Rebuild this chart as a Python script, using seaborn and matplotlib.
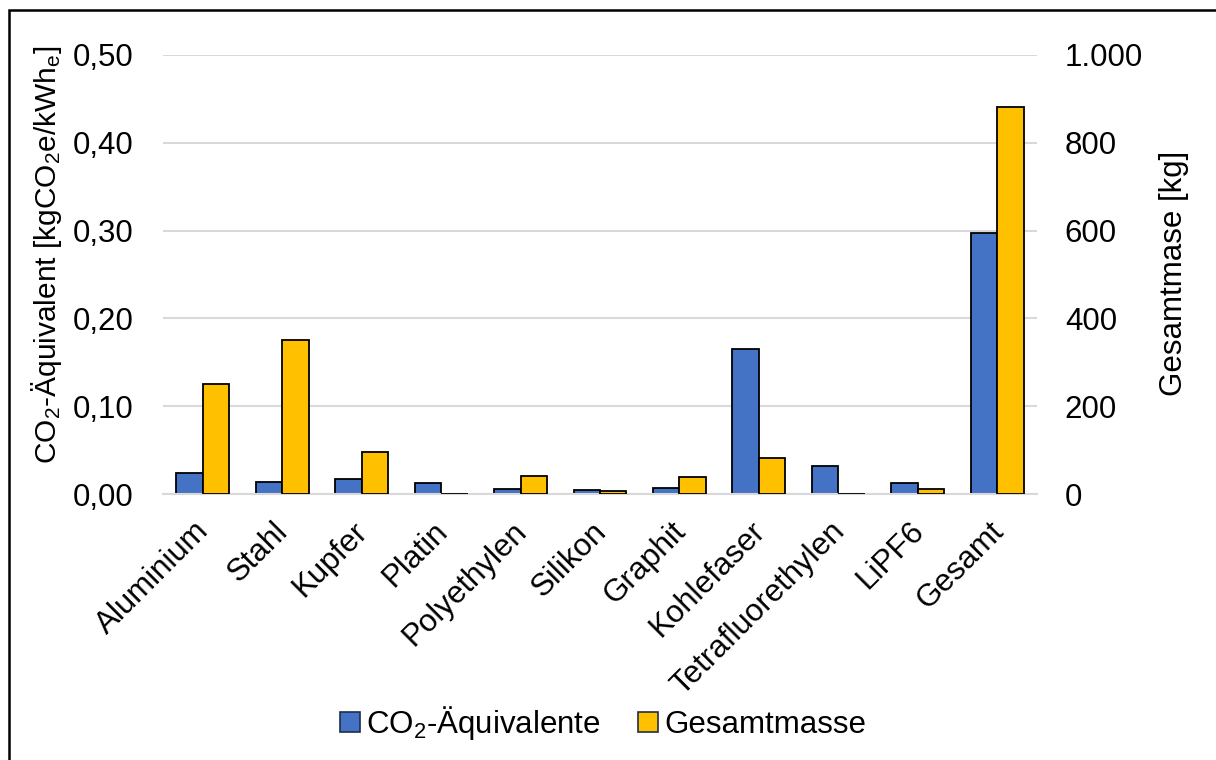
import matplotlib
matplotlib.use("Agg")
import matplotlib.pyplot as plt
from matplotlib.patches import Patch, Rectangle
from matplotlib.ticker import FuncFormatter, FixedLocator
from matplotlib.transforms import ScaledTranslation
import seaborn as sns
import pandas as pd

# Materials and their values
materials = ["Aluminium", "Stahl", "Kupfer", "Platin", "Polyethylen", "Silikon",
             "Graphit", "Kohlefaser", "Tetrafluorethylen", "LiPF6", "Gesamt"]
co2_values = [0.024, 0.014, 0.017, 0.012, 0.006, 0.005, 0.0065, 0.165, 0.032, 0.013, 0.297]
mass_values = [250, 350, 95, 1, 42, 7, 39, 83, 1, 11, 882]

co2_name = "CO$_2$-Äquivalente"
mass_name = "Gesamtmasse"
series_order = [co2_name, mass_name]
palette = {co2_name: "#4472C4", mass_name: "#FFC000"}

sns.set_theme(style="white")
plt.rcParams["font.family"] = ["Liberation Sans", "DejaVu Sans"]
plt.rcParams["mathtext.fontset"] = "custom"
plt.rcParams["mathtext.rm"] = "Liberation Sans"
plt.rcParams["mathtext.it"] = "Liberation Sans:italic"
plt.rcParams["mathtext.bf"] = "Liberation Sans:bold"
plt.rcParams["text.color"] = "black"
plt.rcParams["axes.labelcolor"] = "black"
plt.rcParams["xtick.color"] = "black"
plt.rcParams["ytick.color"] = "black"

FS = 22.5

df_co2 = pd.DataFrame({"Material": materials, "Wert": co2_values, "Serie": co2_name})
df_mass = pd.DataFrame({"Material": materials, "Wert": mass_values, "Serie": mass_name})

fig = plt.figure(figsize=(12.16, 7.6), dpi=100)
ax = fig.add_axes([163 / 1216, 1 - 494 / 760, (1037 - 163) / 1216, (494 - 55) / 760])
ax2 = ax.twinx()

bar_kw = dict(x="Material", y="Wert", hue="Serie", hue_order=series_order,
              order=materials, palette=palette, width=0.667, gap=0, dodge=True,
              saturation=1, edgecolor="black", linewidth=1.3, legend=False,
              errorbar=None)
sns.barplot(data=df_co2, ax=ax, **bar_kw)
sns.barplot(data=df_mass, ax=ax2, **bar_kw)

# Axis ranges and gridlines
ax.set_ylim(0, 0.5)
ax2.set_ylim(0, 1000)
ax.set_xlim(-0.5, len(materials) - 0.5)
ax.set_yticks([0, 0.1, 0.2, 0.3, 0.4, 0.5])
ax2.set_yticks([0, 200, 400, 600, 800, 1000])
ax.yaxis.set_major_formatter(FuncFormatter(lambda v, p: f"{v:.2f}".replace(".", ",")))
ax2.yaxis.set_major_formatter(FuncFormatter(lambda v, p: f"{int(round(v)):,}".replace(",", ".")))
ax.grid(axis="y", color="#d9d9d9", linewidth=1.5)
ax.set_axisbelow(True)
ax2.grid(False)

for a in (ax, ax2):
    for s in ("top", "left", "right"):
        a.spines[s].set_visible(False)
ax2.spines["bottom"].set_visible(False)
ax.spines["bottom"].set_color("#d9d9d9")
ax.spines["bottom"].set_linewidth(1.5)

ax.tick_params(axis="y", length=0, pad=21, labelsize=FS, labelcolor="black")
ax2.tick_params(axis="y", length=0, pad=20, labelsize=FS, labelcolor="black")

# Category labels and separator ticks
ax.set_xticks(range(len(materials)))
ax.set_xticklabels(materials, rotation=45, ha="right", va="top",
                   rotation_mode="anchor", fontsize=FS, color="black")
ax.tick_params(axis="x", which="major", length=0, pad=16)
shift = ScaledTranslation(-9 / 100, 0, fig.dpi_scale_trans)
for lbl in ax.get_xticklabels():
    lbl.set_transform(lbl.get_transform() + shift)
ax.xaxis.set_minor_locator(FixedLocator([i - 0.5 for i in range(len(materials) + 1)]))
ax.tick_params(axis="x", which="minor", length=7, width=1.5, color="#d9d9d9")
ax.set_xlabel("")

ax.set_ylabel("CO$_2$-Äquivalent [kgCO$_2$e/kWh$_\\mathrm{e}$]", fontsize=21.5,
              va="center", color="black")
ax.yaxis.set_label_coords(47 / 1216, 1 - 255 / 760, transform=fig.transFigure)
ax2.set_ylabel("Gesamtmase [kg]", fontsize=FS, rotation=90, va="center", color="black")
ax2.yaxis.set_label_coords(1174 / 1216, 1 - 273 / 760, transform=fig.transFigure)

# Legend
handles = [Patch(facecolor=palette[n], edgecolor="#1f2d4a", linewidth=1.2, label=n)
           for n in series_order]
fig.legend(handles=handles, loc="center", bbox_to_anchor=(603 / 1216, 1 - 723 / 760),
           ncol=2, frameon=False, fontsize=FS, handlelength=0.64, handleheight=0.64,
           handletextpad=0.2, columnspacing=1.2, borderpad=0, borderaxespad=0)

# Frame around the chart
fig.patches.append(Rectangle((9 / 1216, -0.5), 1.5, 0.5 + 1 - 10 / 760,
                             transform=fig.transFigure, fill=False,
                             edgecolor="black", linewidth=1.8))

fig.savefig("out.png", dpi=100)
